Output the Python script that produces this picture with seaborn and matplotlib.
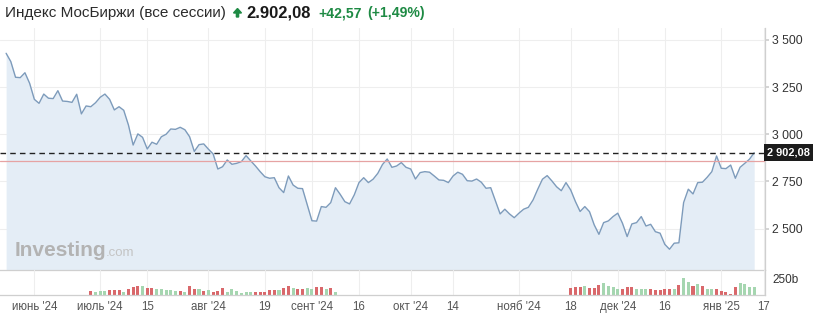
import numpy as np
import pandas as pd
import matplotlib
matplotlib.use("Agg")
import matplotlib.pyplot as plt
import matplotlib.transforms as mtransforms
from matplotlib.patches import FancyArrow
import seaborn as sns

# ---------------- data ----------------
title = "Индекс МосБиржи (все сессии)"
last_price_txt = "2.902,08"
change_abs_txt = "+42,57"
change_pct_txt = "(+1,49%)"
last_price = 2902.08
prev_close = 2859.51
last_box_txt = "2 902,08"

first_session = "2024-05-31"
calendar_end = "2025-01-17"
holidays = ["2024-06-12", "2024-11-04", "2024-12-31",
            "2025-01-01", "2025-01-02", "2025-01-07"]
extra_sessions = ["2024-11-02", "2024-12-28"]

price = [3429, 3385, 3302, 3300, 3326, 3270, 3185, 3164, 3213, 3191,
         3189, 3231, 3176, 3174, 3169, 3212, 3108, 3150, 3146, 3167,
         3196, 3213, 3185, 3129, 3146, 3127, 3049, 2943, 3002, 2984,
         2922, 2958, 2947, 2987, 3000, 3028, 3026, 3037, 3024, 2987,
         2909, 2945, 2949, 2921, 2896, 2816, 2828, 2864, 2841, 2846,
         2855, 2887, 2859, 2832, 2802, 2775, 2767, 2770, 2717, 2691,
         2779, 2731, 2714, 2712, 2626, 2542, 2540, 2617, 2613, 2638,
         2717, 2682, 2643, 2631, 2679, 2744, 2770, 2744, 2762, 2793,
         2840, 2869, 2825, 2832, 2850, 2825, 2816, 2763, 2797, 2802,
         2799, 2779, 2758, 2756, 2744, 2779, 2799, 2788, 2754, 2752,
         2763, 2746, 2714, 2717, 2648, 2578, 2603, 2578, 2558, 2582,
         2603, 2613, 2652, 2709, 2762, 2781, 2753, 2722, 2701, 2744,
         2705, 2644, 2591, 2617, 2590, 2520, 2470, 2532, 2541, 2564,
         2582, 2529, 2458, 2525, 2532, 2564, 2514, 2523, 2484, 2476,
         2417, 2391, 2423, 2425, 2638, 2709, 2684, 2744, 2746, 2772,
         2802, 2885, 2820, 2818, 2837, 2767, 2825, 2846, 2868, 2902.08]

# volume (bn), two stretches with data; g = up candle, d = down candle
vol_a_start = "2024-06-27"
vol_a = [62, 52, 58, 62, 73, 73, 73, 52, 89, 120, 140, 136, 105, 114, 98, 89,
         83, 78, 67, 62, 52, 136, 98, 89, 62, 73, 52, 62, 114, 52, 89, 62, 36,
         52, 52, 52, 52, 52, 83, 83, 78, 114, 136, 114, 89, 98, 105, 89, 125,
         130, 89, 114, 52]
dir_a = "dgggdddgdddgddgggggdgddgdg" + "dddggggggdddddgddgddggddgdg"
vol_b_start = "2024-11-18"
vol_b = [114, 130, 125, 140, 114, 114, 151, 183, 136, 125, 98, 89, 125, 130,
         98, 89, 89, 89, 78, 73, 98, 89, 98, 151, 270, 208, 136, 176, 136, 89,
         98, 89, 62, 52, 8, 125, 183, 176, 125, 125]
dir_b = "dddgdddggggdddgggd" + "ddddgdggdgdggddddd" + "gggg"

xtick_dates = ["2024-06-10", "2024-07-01", "2024-07-15", "2024-08-01",
               "2024-08-19", "2024-09-02", "2024-09-16", "2024-10-01",
               "2024-10-14", "2024-11-01", "2024-11-18", "2024-12-02",
               "2024-12-16", "2025-01-03", "2025-01-17"]
xtick_labels = ["июнь '24", "июль '24", "15", "авг '24", "19", "сент '24",
                "16", "окт '24", "14", "нояб '24", "18", "дек '24", "16",
                "янв '25", "17"]
ytick_values = [2500, 2750, 3000, 3250, 3500]
vol_tick_values = [250]
vol_tick_labels = ["250b"]

# ---------------- build frames ----------------
sessions = pd.bdate_range(first_session, calendar_end, freq="C", holidays=holidays)
sessions = sessions.union(pd.DatetimeIndex(extra_sessions))

df = pd.DataFrame({"pos": np.arange(len(price)), "date": sessions[:len(price)],
                   "price": price})

def vol_frame(start, vols, dirs):
    i0 = sessions.get_loc(pd.Timestamp(start))
    return pd.DataFrame({"pos": np.arange(i0, i0 + len(vols)), "vol": vols,
                         "dir": list(dirs)})

dv = pd.concat([vol_frame(vol_a_start, vol_a, dir_a),
                vol_frame(vol_b_start, vol_b, dir_b)], ignore_index=True)

tick_pos = sessions.get_indexer(pd.to_datetime(xtick_dates), method="bfill")

# ---------------- style ----------------
sns.set_theme(style="white")
plt.rcParams["font.family"] = ["Liberation Sans", "DejaVu Sans"]

W, H = 817, 315
fig = plt.figure(figsize=(W / 100, H / 100), dpi=100)
fig.patch.set_facecolor("white")

def fx(px):
    return px / W

def fy(py):
    return 1 - py / H

plot_right = 765
ax = fig.add_axes([0, fy(270), fx(plot_right), (270 - 28) / H])
axv = fig.add_axes([0, fy(295), fx(plot_right), 25 / H])

line_col = "#7d9bbb"
fill_col = "#e4edf6"
grid_col = "#eeeeee"
axis_col = "#cfcfcf"
red_col = "#d9686b"
green_col = "#a5d6b0"

ylo, yhi = 2281, 3563
xlo, xhi = -1.3, 161.3

# grid
for t in ytick_values:
    ax.axhline(t, color=grid_col, lw=0.8, zorder=0)
for p in tick_pos:
    ax.axvline(p, color=grid_col, lw=0.8, zorder=0)
    axv.axvline(p, color=grid_col, lw=0.8, zorder=0)

ax.fill_between(df["pos"], df["price"], ylo, color=fill_col, lw=0, zorder=1)
sns.lineplot(data=df, x="pos", y="price", ax=ax, color=line_col, linewidth=1.0,
             zorder=2)

ax.axhline(prev_close, color="#e6a3a3", lw=0.9, zorder=3)
ax.axhline(last_price, color="#222222", lw=1.0, dashes=(4, 3), zorder=4)

ax.set_xlim(xlo, xhi)
ax.set_ylim(ylo, yhi)
ax.set_xlabel("")
ax.set_ylabel("")
ax.set_xticks(tick_pos)
ax.set_xticklabels([])
ax.tick_params(axis="x", length=0)
ax.yaxis.tick_right()
ax.set_yticks(ytick_values)
ax.set_yticklabels([f"{v:,.0f}".replace(",", " ") for v in ytick_values])
ax.tick_params(axis="y", length=3, color=axis_col, pad=2, labelsize=8.8,
               labelcolor="#333333")
for s in ["top", "left"]:
    ax.spines[s].set_visible(False)
for s in ["right", "bottom"]:
    ax.spines[s].set_color(axis_col)
    ax.spines[s].set_linewidth(0.9)
ax.set_facecolor("none")

# last price box
trans = mtransforms.blended_transform_factory(ax.transAxes, ax.transData)
ax.text(1.003, last_price, last_box_txt, transform=trans, ha="left",
        va="center", color="white", fontsize=7.9, fontweight="bold",
        bbox=dict(boxstyle="square,pad=0.3", fc="#1c1c1c", ec="none"),
        zorder=10, clip_on=False)

# volume
axv.bar(dv["pos"], dv["vol"], width=0.65,
        color=[green_col if d == "g" else red_col for d in dv["dir"]],
        linewidth=0, zorder=2)
axv.set_xlim(xlo, xhi)
axv.set_ylim(0, 390)
axv.set_xticks(tick_pos)
axv.set_xticklabels(xtick_labels)
axv.tick_params(axis="x", length=0, pad=4, labelsize=8.3, labelcolor="#555555")
axv.yaxis.tick_right()
axv.set_yticks(vol_tick_values)
axv.set_yticklabels(vol_tick_labels)
axv.tick_params(axis="y", length=0, pad=5, labelsize=8.5, labelcolor="#333333")
for s in ["top", "left"]:
    axv.spines[s].set_visible(False)
for s in ["right", "bottom"]:
    axv.spines[s].set_color(axis_col)
    axv.spines[s].set_linewidth(0.9)
axv.set_facecolor("none")

# header
fig.text(fx(5), fy(13), title, fontsize=11, color="#2b2b2b", va="center")
green_txt = "#1e8a44"
fig.add_artist(FancyArrow(fx(237.5), fy(17), 0, 8.5 / H, width=2.2 / W,
                          head_width=8 / W, head_length=4.5 / H,
                          length_includes_head=True, color=green_txt,
                          transform=fig.transFigure))
fig.text(fx(246), fy(13), last_price_txt, fontsize=11.9, fontweight="bold",
         color="#1a1a1a", va="center")
fig.text(fx(318), fy(13), change_abs_txt, fontsize=10.1, fontweight="bold",
         color=green_txt, va="center")
fig.text(fx(367), fy(13), change_pct_txt, fontsize=10.1, fontweight="bold",
         color=green_txt, va="center")

# watermark
fig.text(fx(15), fy(251), "Investing", fontsize=15, fontweight="bold",
         color="#b3b3b3", va="center")
fig.text(fx(106), fy(253), ".com", fontsize=9.5, color="#c4c4c4", va="center")

fig.savefig("out.png", dpi=100, facecolor="white")
